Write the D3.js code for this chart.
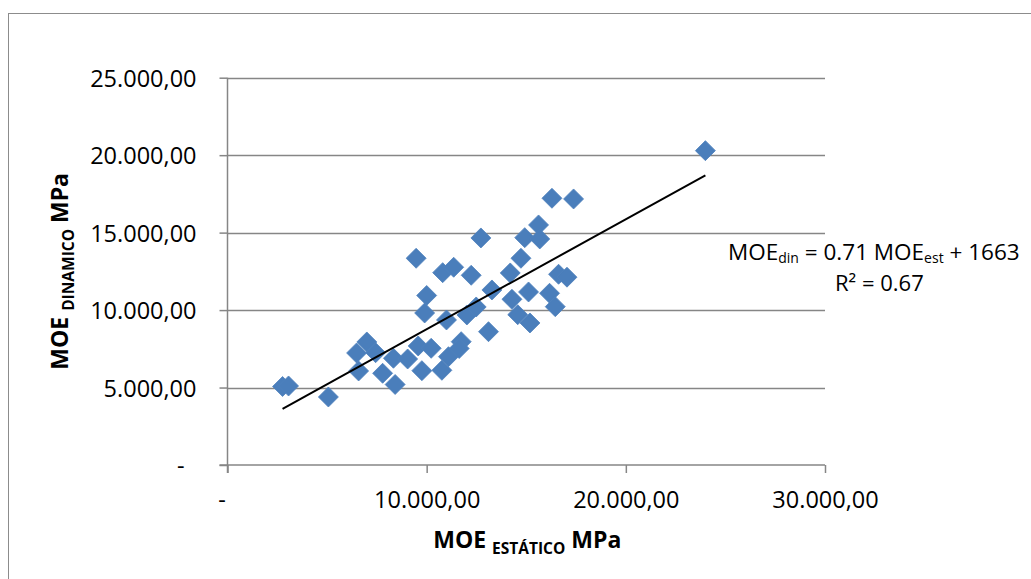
<!DOCTYPE html>
<html>
<head>
<meta charset="utf-8">
<script src="https://cdn.jsdelivr.net/npm/d3@7"></script>
<style>
  html, body { margin: 0; padding: 0; background: #fff; }
  svg { display: block; }
  text { font-family: "Open Sans", "Noto Sans", sans-serif; fill: #000; }
</style>
</head>
<body>
<svg id="chart" width="1031" height="579"></svg>
<script>
// ---- data ----
const moeEstatico = [2764, 3065, 5065, 6482, 6995, 7437, 6583, 7789, 8331, 9045,
  8417, 9472, 10804, 11357, 10000, 9899, 10995, 9573, 10226, 9759,
  10764, 11095, 11733, 11633, 12020, 12487, 13105, 12236, 12723, 13276,
  14196, 14281, 14573, 15186, 14733, 14924, 15618, 15678, 15115, 16170,
  16457, 16623, 17045, 16291, 17377, 23994];
const moeDinamico = [5068, 5100, 4390, 7231, 7941, 7250, 6069, 5920, 6889, 6843,
  5197, 13345, 12415, 12764, 10943, 9813, 9361, 7683, 7534, 6088,
  6114, 6992, 7960, 7521, 9684, 10200, 8606, 12247, 14655, 11298,
  12396, 10698, 9703, 9168, 13345, 14675, 15494, 14591, 11169, 11085,
  10220, 12312, 12124, 17218, 17173, 20291];
const xTickValues = [0, 10000, 20000, 30000];
const yTickValues = [0, 5000, 10000, 15000, 20000, 25000];
const trendCoef = [0.71, 1663];       // slope, intercept
const trendR2 = [0.67];

// ---- layout ----
const svg = d3.select("#chart");
const X0 = 227.5, X1 = 825, Y0 = 465, Y1 = 77.7;
const x = d3.scaleLinear().domain([0, 30000]).range([X0, X1]);
const y = d3.scaleLinear().domain([0, 25000]).range([Y0, Y1]);
const loc = d3.formatLocale({decimal: ",", thousands: ".", grouping: [3], currency: ["R$", ""]});
const f2 = loc.format(",.2f");
const fmt = v => v === 0 ? "-" : f2(v);
const gridColor = "#868686";

// chart border
svg.append("rect").attr("x", 8.5).attr("y", 13.5).attr("width", 1100).attr("height", 700)
  .attr("fill", "none").attr("stroke", "#8c8c8c").attr("stroke-width", 1);

// gridlines
svg.append("g").selectAll("line").data(yTickValues.filter(v => v > 0)).join("line")
  .attr("x1", X0).attr("x2", X1)
  .attr("y1", d => Math.round(y(d)) + 0.5).attr("y2", d => Math.round(y(d)) + 0.5)
  .attr("stroke", gridColor).attr("stroke-width", 1.5);

// y axis
const gy = svg.append("g").attr("transform", `translate(${X0},0)`)
  .call(d3.axisLeft(y).tickValues(yTickValues).tickSize(8).tickPadding(23).tickFormat(fmt));
gy.select(".domain").attr("stroke", gridColor).attr("stroke-width", 1.5).attr("d", `M0,${Y1}V${Y0 + 8}`);
gy.selectAll(".tick line").attr("stroke", gridColor).attr("stroke-width", 1.5);
gy.selectAll(".tick text").attr("font-size", 23.5).attr("font-family", null).attr("fill", "#000")
  .attr("dy", "0.36em")
  .attr("dx", d => d === 0 ? -12 : 0);

// x axis
const gx = svg.append("g").attr("transform", `translate(0,${Y0})`)
  .call(d3.axisBottom(x).tickValues(xTickValues).tickSize(8).tickPadding(18).tickFormat(fmt));
gx.select(".domain").attr("stroke", gridColor).attr("stroke-width", 1.5).attr("d", `M${X0 - 8},0H${X1}`);
gx.selectAll(".tick line").attr("stroke", gridColor).attr("stroke-width", 1.5);
gx.selectAll(".tick text").attr("font-size", 23.5).attr("font-family", null).attr("fill", "#000")
  .attr("dy", "0.71em")
  .attr("dx", d => d === 0 ? -6 : 0);

// points
const diamond = "M0,-10L10,0L0,10L-10,0Z";
svg.append("g").selectAll("path").data(moeEstatico.map((v, i) => [v, moeDinamico[i]])).join("path")
  .attr("d", diamond)
  .attr("transform", d => `translate(${x(d[0])},${y(d[1])})`)
  .attr("fill", "#4a7ebb").attr("stroke", "#4f81bd").attr("stroke-width", 0.8);

// trendline
const xmin = d3.min(moeEstatico), xmax = d3.max(moeEstatico);
svg.append("line")
  .attr("x1", x(xmin)).attr("y1", y(trendCoef[0] * xmin + trendCoef[1]))
  .attr("x2", x(xmax)).attr("y2", y(trendCoef[0] * xmax + trendCoef[1]))
  .attr("stroke", "#000").attr("stroke-width", 2);

// equation label
const eq = svg.append("text").attr("x", 728).attr("y", 260).attr("font-size", 22.5);
eq.append("tspan").text("MOE");
eq.append("tspan").text("din").attr("font-size", 14).attr("dy", 3);
eq.append("tspan").text(` = ${trendCoef[0]} MOE`).attr("dy", -3);
eq.append("tspan").text("est").attr("font-size", 14).attr("dy", 3);
eq.append("tspan").text(` + ${trendCoef[1]}`).attr("dy", -3);
svg.append("text").attr("x", 835).attr("y", 291).attr("font-size", 22)
  .text(`R² = ${trendR2[0]}`);

// x title
const xt = svg.append("text").attr("x", (X0 + X1) / 2 + 1).attr("y", 548)
  .attr("text-anchor", "middle").attr("font-weight", "bold").attr("font-size", 23);
xt.append("tspan").text("MOE ");
xt.append("tspan").text("ESTÁTICO").attr("font-size", 15.5).attr("dy", 6);
xt.append("tspan").text(" MPa").attr("dy", -6);

// y title
const yt = svg.append("text")
  .attr("transform", `translate(68,${(Y0 + Y1) / 2}) rotate(-90)`)
  .attr("text-anchor", "middle").attr("font-weight", "bold").attr("font-size", 23);
yt.append("tspan").text("MOE ");
yt.append("tspan").text("DINAMICO").attr("font-size", 15.5).attr("dy", 6);
yt.append("tspan").text(" MPa").attr("dy", -6);
</script>
</body>
</html>
